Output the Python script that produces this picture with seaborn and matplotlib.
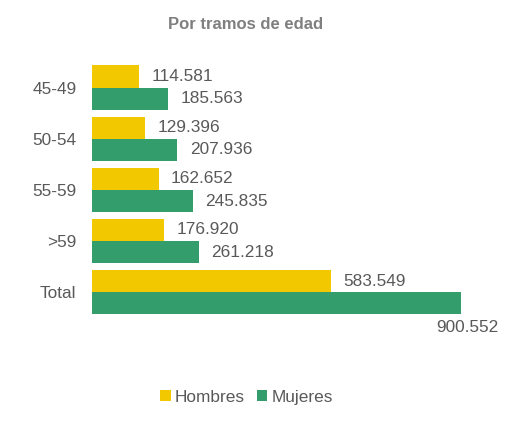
import pandas as pd
import matplotlib
matplotlib.use("Agg")
import matplotlib.pyplot as plt
import seaborn as sns

# Data
categorias = ["45-49", "50-54", "55-59", ">59", "Total"]
hombres = [114581, 129396, 162652, 176920, 583549]
mujeres = [185563, 207936, 245835, 261218, 900552]
series = ["Hombres", "Mujeres"]
colores = ["#F2C800", "#339E6C"]

df = pd.DataFrame({
    "tramo": categorias * 2,
    "valor": hombres + mujeres,
    "sexo": [series[0]] * len(categorias) + [series[1]] * len(categorias),
})

def fmt(v):
    return f"{v:,}".replace(",", ".")

sns.set_style("white")
plt.rcParams["font.family"] = ["Liberation Sans", "DejaVu Sans"]

fig = plt.figure(figsize=(5.19, 4.22), dpi=100)
ax = fig.add_axes([0.177, 0.247, 0.781, 0.606])

sns.barplot(data=df, y="tramo", x="valor", hue="sexo", palette=colores,
            orient="h", width=0.87, saturation=1, linewidth=0, ax=ax)

ax.set_xlim(0, 988000)
ax.set_xlabel("")
ax.set_ylabel("")
ax.set_xticks([])
ax.tick_params(axis="y", length=0, labelsize=12.4, labelcolor="#595959", pad=11)
sns.despine(ax=ax, left=True, bottom=True)

# value labels
for i, cont in enumerate(ax.containers):
    vals = hombres if i == 0 else mujeres
    labs = [fmt(v) for v in vals]
    if i == 1:
        labs[-1] = ""
    ax.bar_label(cont, labels=labs, padding=9, fontsize=12.4, color="#595959")

# Total Mujeres label below the end of the bar
last = ax.containers[1][-1]
ax.annotate(fmt(mujeres[-1]), xy=(last.get_width(), last.get_y() + last.get_height()),
            xytext=(4, -4), textcoords="offset points", ha="center", va="top",
            fontsize=12.4, color="#595959")

ax.legend(loc="center", bbox_to_anchor=(0.475, 0.059), bbox_transform=fig.transFigure,
          ncol=2, frameon=False, fontsize=12.4, labelcolor="#595959",
          handlelength=0.6, handleheight=0.6, handletextpad=0.25, columnspacing=0.7)

fig.text(0.474, 0.941, "Por tramos de edad", ha="center", va="center",
         fontsize=12, fontweight="bold", color="#7F7F7F")

fig.savefig("out.png", dpi=100)
